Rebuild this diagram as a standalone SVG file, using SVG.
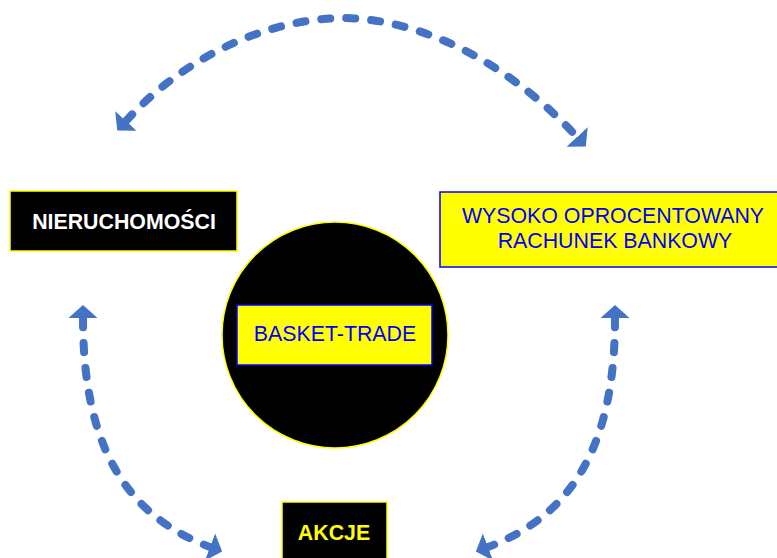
<svg xmlns="http://www.w3.org/2000/svg" width="777" height="558" viewBox="0 0 777 558">
<style>
.conn{fill:none;stroke:#4472C4;stroke-width:8;stroke-linecap:round;stroke-dasharray:9 16}
.dark{fill:#000;stroke:#FFFF00;stroke-width:1.5}
.light{fill:#FFFF00;stroke:#0000FF;stroke-width:1.5}
.t{font-family:"Liberation Sans",Arial,sans-serif;font-size:21.33px;text-anchor:middle}
.b{font-weight:bold}
</style>
<defs>
<marker id="ah" viewBox="0 -15 14 30" refX="0" refY="0" markerWidth="14" markerHeight="30" markerUnits="userSpaceOnUse" orient="auto-start-reverse">
<path d="M0,-14.5 L13,0 L0,14.5 Z" fill="#4472C4"/>
</marker>
</defs>
<rect width="777" height="558" fill="#fff"/>
<g id="connectors">
<path class="conn" d="M126 121 C186 55 270 18 345 18 C435 20 520 75 577 137" marker-start="url(#ah)" marker-end="url(#ah)"/>
<path class="conn" d="M83 318 C83 445 125 515 210 547" marker-start="url(#ah)" marker-end="url(#ah)"/>
<path class="conn" d="M615 318 C615 445 573 515 488 547" marker-start="url(#ah)" marker-end="url(#ah)"/>
</g>
<g id="nieruchomosci">
<rect class="dark" x="10" y="191" width="227" height="60"/>
<text class="t b" x="124" y="229" fill="#fff">NIERUCHOMOŚCI</text>
</g>
<g id="rachunek">
<rect class="light" x="440" y="192" width="345" height="75"/>
<text class="t" x="613" y="223" fill="#0000FF">WYSOKO OPROCENTOWANY</text>
<text class="t" x="615" y="248" fill="#0000FF">RACHUNEK BANKOWY</text>
</g>
<g id="basket">
<circle cx="335" cy="335" r="113" fill="#000" stroke="#FFFF00" stroke-width="1.5"/>
<rect class="light" x="237" y="305" width="195" height="60"/>
<text class="t" x="335" y="341" fill="#0000FF">BASKET-TRADE</text>
</g>
<g id="akcje">
<rect class="dark" x="282" y="502" width="105" height="70"/>
<text class="t b" x="334" y="540" fill="#FFFF00">AKCJE</text>
</g>
</svg>
